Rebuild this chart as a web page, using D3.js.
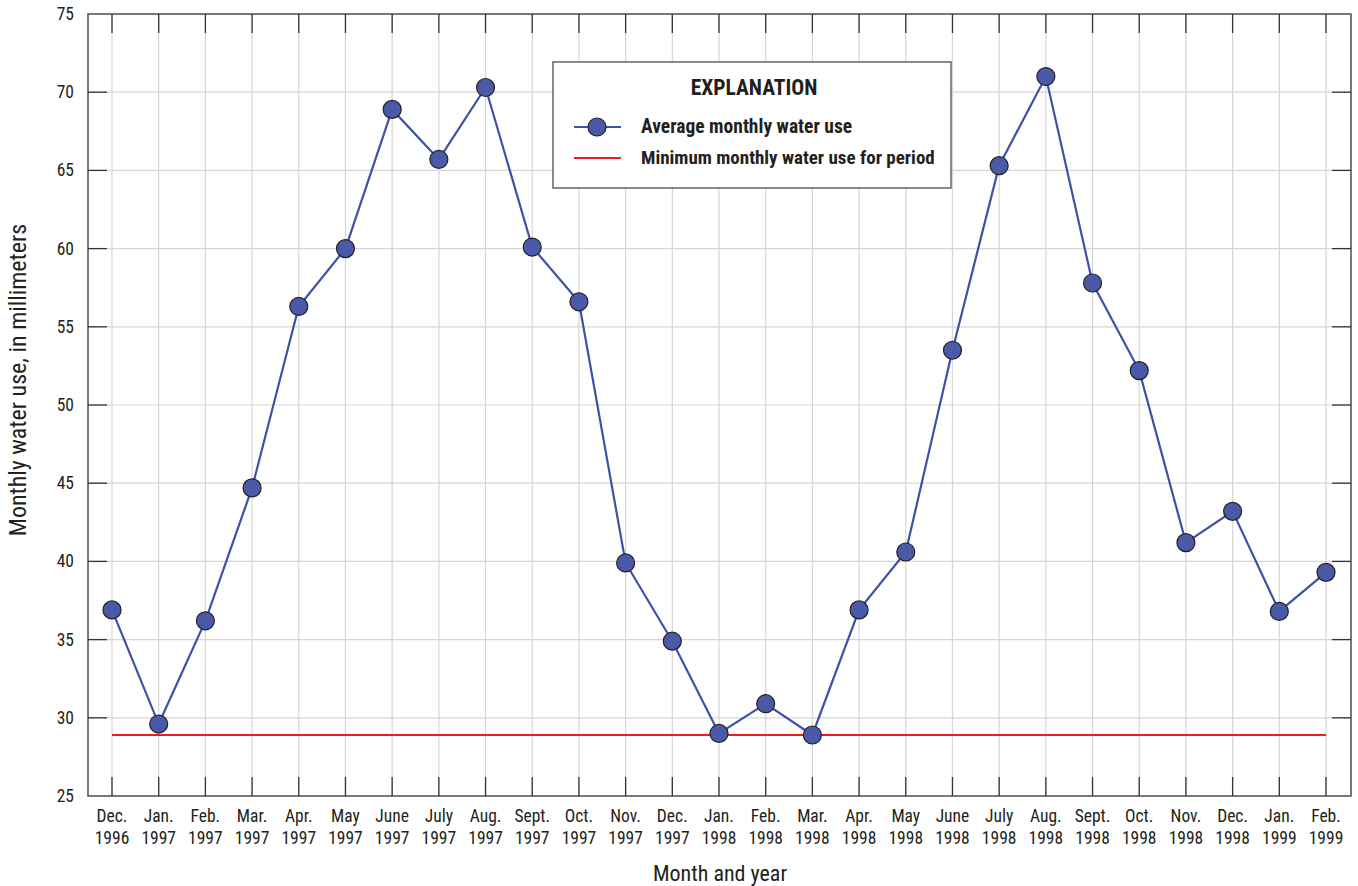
<!DOCTYPE html>
<html><head><meta charset="utf-8">
<script src="https://cdn.jsdelivr.net/npm/d3@7"></script>
<style>
body{margin:0;background:#fff;}
text{font-family:"Liberation Sans Narrow","Roboto Condensed","Arial Narrow",sans-serif;fill:#231f20;}
</style></head>
<body><svg id="c" width="1358" height="886"></svg>
<script>
const months = ["Dec.","Jan.","Feb.","Mar.","Apr.","May","June","July","Aug.","Sept.","Oct.","Nov.","Dec.","Jan.","Feb.","Mar.","Apr.","May","June","July","Aug.","Sept.","Oct.","Nov.","Dec.","Jan.","Feb."];
const years = ["1996","1997","1997","1997","1997","1997","1997","1997","1997","1997","1997","1997","1997","1998","1998","1998","1998","1998","1998","1998","1998","1998","1998","1998","1998","1999","1999"];
const waterUse = [36.9,29.6,36.2,44.7,56.3,60.0,68.9,65.7,70.3,60.1,56.6,39.9,34.9,29.0,30.9,28.9,36.9,40.6,53.5,65.3,71.0,57.8,52.2,41.2,43.2,36.8,39.3];
const minimumUse = 28.9;
const yTicks = [25,30,35,40,45,50,55,60,65,70,75];

const svg = d3.select("#c");
const L=88, R=1351, T=14, B=796;
const x = d3.scalePoint().domain(d3.range(months.length)).range([112,1326]);
const y = d3.scaleLinear().domain([25,75]).range([B,T]);

// grid
svg.append("g").selectAll("line").data(d3.range(months.length)).join("line")
  .attr("x1",d=>x(d)).attr("x2",d=>x(d)).attr("y1",T).attr("y2",B)
  .attr("stroke","#d6d6d6").attr("stroke-width",1.2);
svg.append("g").selectAll("line").data(yTicks.slice(1,-1)).join("line")
  .attr("x1",L).attr("x2",R).attr("y1",d=>y(d)).attr("y2",d=>y(d))
  .attr("stroke","#d6d6d6").attr("stroke-width",1.2);

// frame
svg.append("rect").attr("x",L).attr("y",T).attr("width",R-L).attr("height",B-T)
  .attr("fill","none").attr("stroke","#4d4d4d").attr("stroke-width",1.5);

// ticks
const tk="#333";
const xt = svg.append("g");
d3.range(months.length).forEach(i=>{
  xt.append("line").attr("x1",x(i)).attr("x2",x(i)).attr("y1",B).attr("y2",B-19).attr("stroke",tk).attr("stroke-width",1.3);
  xt.append("line").attr("x1",x(i)).attr("x2",x(i)).attr("y1",T).attr("y2",T+19).attr("stroke",tk).attr("stroke-width",1.3);
  const t = xt.append("text").attr("x",x(i)).attr("text-anchor","middle").attr("font-size",17.5);
  t.append("tspan").attr("x",x(i)).attr("y",B+26).text(months[i]);
  t.append("tspan").attr("x",x(i)).attr("y",B+48).text(years[i]);
});
const yt = svg.append("g");
yTicks.forEach(v=>{
  if(v!==25 && v!==75){
    yt.append("line").attr("x1",L).attr("x2",L+19).attr("y1",y(v)).attr("y2",y(v)).attr("stroke",tk).attr("stroke-width",1.3);
    yt.append("line").attr("x1",R).attr("x2",R-19).attr("y1",y(v)).attr("y2",y(v)).attr("stroke",tk).attr("stroke-width",1.3);
  }
  yt.append("text").attr("x",74).attr("y",y(v)+6).attr("text-anchor","end").attr("font-size",17.5).text(v);
});

// axis titles
svg.append("text").attr("x",720).attr("y",881).attr("text-anchor","middle").attr("font-size",22).text("Month and year");
svg.append("text").attr("transform","translate(26,380) rotate(-90)").attr("text-anchor","middle").attr("font-size",24).text("Monthly water use, in millimeters");

// minimum line
svg.append("line").attr("x1",x(0)).attr("x2",x(months.length-1)).attr("y1",y(minimumUse)).attr("y2",y(minimumUse))
  .attr("stroke","#ed1c24").attr("stroke-width",2.2);

// series
const line = d3.line().x((d,i)=>x(i)).y(d=>y(d));
svg.append("path").datum(waterUse).attr("d",line).attr("fill","none").attr("stroke","#3f51a6").attr("stroke-width",2.2);
svg.append("g").selectAll("circle").data(waterUse).join("circle")
  .attr("cx",(d,i)=>x(i)).attr("cy",d=>y(d)).attr("r",9)
  .attr("fill","#4a5aa8").attr("stroke","#222").attr("stroke-width",1.2);

// legend
const lg = svg.append("g");
lg.append("rect").attr("x",553).attr("y",62).attr("width",398).attr("height",126).attr("fill","#fff").attr("stroke","#4d4d4d").attr("stroke-width",1.3);
lg.append("text").attr("x",754).attr("y",95).attr("text-anchor","middle").attr("font-weight","bold").attr("font-size",21.5).text("EXPLANATION");
lg.append("line").attr("x1",574).attr("x2",621).attr("y1",127).attr("y2",127).attr("stroke","#3f51a6").attr("stroke-width",2.2);
lg.append("circle").attr("cx",597).attr("cy",127).attr("r",9).attr("fill","#4a5aa8").attr("stroke","#222").attr("stroke-width",1.2);
lg.append("text").attr("x",641).attr("y",133).attr("font-weight","bold").attr("font-size",19.5).text("Average monthly water use");
lg.append("line").attr("x1",574).attr("x2",621).attr("y1",158).attr("y2",158).attr("stroke","#ed1c24").attr("stroke-width",2.2);
lg.append("text").attr("x",641).attr("y",164).attr("font-weight","bold").attr("font-size",19).text("Minimum monthly water use for period");
</script></body></html>
